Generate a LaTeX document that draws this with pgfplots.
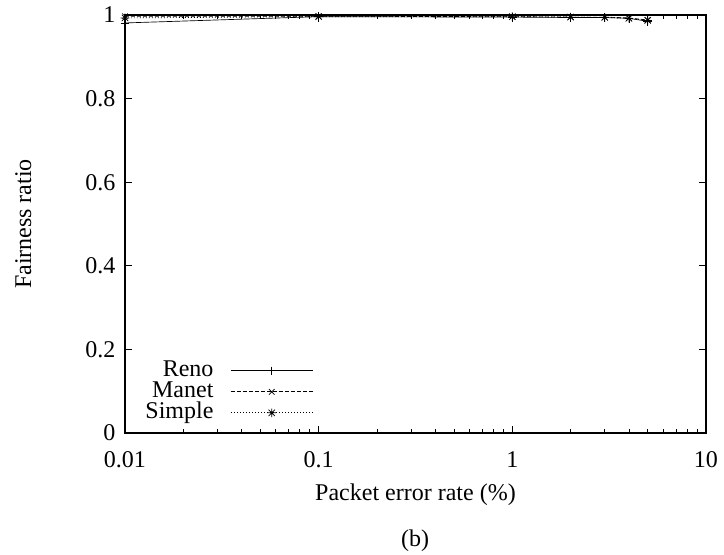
\documentclass[border=0pt]{standalone}
\usepackage{fontspec}
\setmainfont{Liberation Serif}
\usepackage{pgfplots}
\pgfplotsset{compat=1.18}
\pgfdeclareplotmark{gpstar}{%
  \pgfpathmoveto{\pgfqpoint{-\pgfplotmarksize}{0pt}}\pgfpathlineto{\pgfqpoint{\pgfplotmarksize}{0pt}}%
  \pgfpathmoveto{\pgfqpoint{0pt}{-\pgfplotmarksize}}\pgfpathlineto{\pgfqpoint{0pt}{\pgfplotmarksize}}%
  \pgfpathmoveto{\pgfqpoint{-0.75\pgfplotmarksize}{-0.75\pgfplotmarksize}}\pgfpathlineto{\pgfqpoint{0.75\pgfplotmarksize}{0.75\pgfplotmarksize}}%
  \pgfpathmoveto{\pgfqpoint{-0.75\pgfplotmarksize}{0.75\pgfplotmarksize}}\pgfpathlineto{\pgfqpoint{0.75\pgfplotmarksize}{-0.75\pgfplotmarksize}}%
  \pgfusepathqstroke}
\begin{document}
\begin{tikzpicture}[font=\fontsize{18}{21}\selectfont]
\useasboundingbox (-93.75pt,-90.75pt) rectangle (449.25pt,324.75pt);
\begin{axis}[
  at={(0,0)}, anchor=south west,
  scale only axis, width=435.75pt, height=313.5pt,
  font=\fontsize{18}{21}\selectfont,
  /pgf/number format/assume math mode=true,
  xmode=log, xmin=0.01, xmax=10,
  ymin=0, ymax=1,
  xtick={0.01,0.1,1,10}, xticklabels={0.01,0.1,1,10},
  ytick={0,0.2,0.4,0.6,0.8,1},
  yticklabels={0,0.2,0.4,0.6,0.8,1},
  tick align=inside,
  major tick length=5pt, minor tick length=3pt,
  axis line style={line width=1pt},
  every tick/.style={line width=0.6pt, black},
  xticklabel style={yshift=-10.5pt},
  yticklabel style={xshift=-3.75pt},
  xlabel={Packet error rate (\%)},
  ylabel={Fairness ratio},
  xlabel style={at={(axis description cs:0.5,-0.148)}, anchor=center},
  ylabel style={at={(axis description cs:-0.175,0.5)}, anchor=center},
  clip=false,
  legend plot pos=right,
  legend cell align=right,
  legend style={draw=none, fill=none, at={(axis description cs:0.3242,0.0225)}, anchor=south east, inner sep=0pt, row sep=0pt, column sep=12.75pt,
    font=\fontsize{18}{21}\selectfont,
    nodes={inner sep=0pt, text height=12pt, text depth=3.75pt}},
  legend image code/.code={\draw[mark repeat=2,mark phase=2] plot coordinates {(0pt,0pt) (30.75pt,0pt) (61.5pt,0pt)};},
]
\addplot[black, line width=0.5pt, mark=+, mark size=3.2pt, mark options={solid}] coordinates {
 (0.01,0.981) (0.1,0.996) (1,0.995) (2,0.994) (3,0.994) (4,0.992) (5,0.985)};
\addlegendentry{Reno}
\addplot[black, line width=0.5pt, dash pattern=on 3pt off 1.5pt, mark=x, mark size=3pt, mark options={solid}] coordinates {
 (0.01,0.997) (0.1,0.997) (1,0.996) (2,0.995) (3,0.995) (4,0.993) (5,0.988)};
\addlegendentry{Manet}
\addplot[black, line width=0.5pt, dash pattern=on 0.75pt off 1.5pt, mark=gpstar, mark size=3.2pt, mark options={solid}] coordinates {
 (0.01,0.993) (0.1,0.996) (1,0.996) (2,0.995) (3,0.994) (4,0.992) (5,0.987)};
\addlegendentry{Simple}
\end{axis}
\node at (217.5pt,-81pt) {(b)};
\end{tikzpicture}
\end{document}
